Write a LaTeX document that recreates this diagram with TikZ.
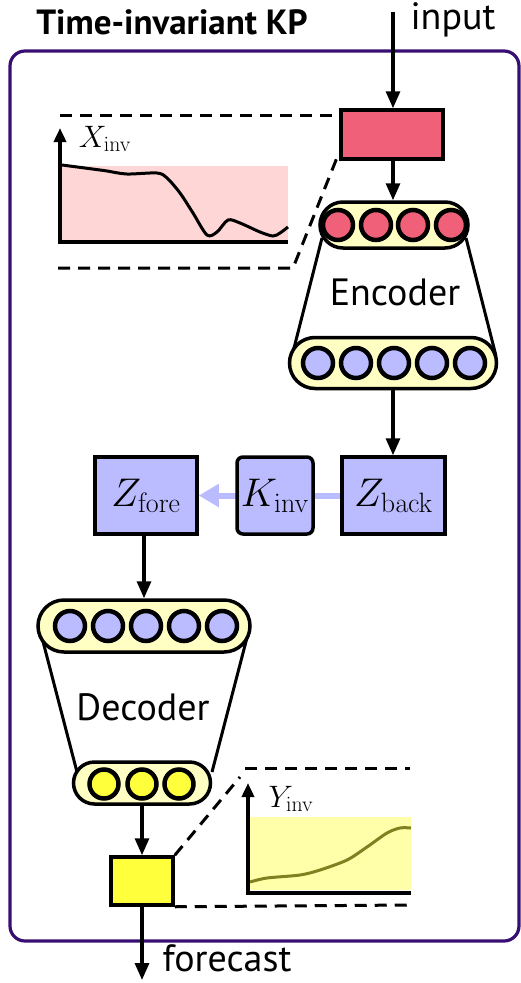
\RequirePackage{fix-cm}
\documentclass[tikz,border=0pt]{standalone}
\usepackage[no-math]{fontspec}
\setmainfont{PT Sans}
\usetikzlibrary{arrows.meta,positioning,shapes.misc}

\definecolor{netred}{RGB}{240,96,121}
\definecolor{netblue}{RGB}{187,187,255}
\definecolor{netyellow}{RGB}{255,255,60}
\definecolor{pillyellow}{RGB}{255,255,195}
\definecolor{plotred}{RGB}{255,214,214}
\definecolor{plotyellow}{RGB}{255,255,170}
\definecolor{curveolive}{RGB}{128,128,32}
\definecolor{framepurple}{RGB}{55,15,115}

\tikzset{
  flow/.style={line width=3.2pt,-{Triangle[length=17pt,width=14pt]}},
  latentflow/.style={line width=6pt,netblue,-{Triangle[length=20pt,width=22pt]}},
  pill/.style={rounded rectangle,draw,line width=3.5pt,fill=pillyellow,inner sep=0pt},
  unit/.style={circle,draw,line width=4.5pt,minimum size=30pt,inner sep=0pt},
  box/.style={draw,line width=3.5pt,inner sep=0pt},
  zoomline/.style={line width=3pt,dash pattern=on 12pt off 8pt},
  axis/.style={line width=3.5pt,-{Triangle[length=14pt,width=12pt]}},
  label/.style={font=\fontsize{38}{46}\selectfont},
  mathlabel/.style={font=\fontsize{40}{48}\selectfont},
  plotlabel/.style={font=\fontsize{31}{37}\selectfont}
}

\begin{document}
\begin{tikzpicture}[x=1pt,y=-1pt]
  \useasboundingbox (0,0) rectangle (521,983);

  % frame
  \draw[framepurple,line width=3.2pt,fill=white,rounded corners=15pt]
    (10,51) rectangle (519,941);
  \node[font=\fontsize{35}{42}\selectfont\bfseries] (title) at (172,22) {Time-invariant KP};

  % input plot
  \fill[plotred] (62,166) rectangle (288,240);
  \draw[line width=3pt] plot[smooth,tension=0.5] coordinates {
    (62,165) (100,170) (107,171) (127,174) (157,173) (167,178) (180,193)
    (193,213) (207,235) (217,232) (228,220) (240,223) (260,232) (273,236)
    (280,233) (288,227)};
  \draw[axis] (288,242) -- (60,242) -- (60,128);
  \node[plotlabel] (xinv) at (105,139) {$X_{\mathrm{inv}}$};

  % encoder
  \draw[line width=3pt] (322,238) -- (292,356);
  \draw[line width=3pt] (466,238) -- (496,356);
  \node[label] (enc) at (395,292) {Encoder};
  \node[pill,minimum width=148pt,minimum height=46pt] (enctop) at (394,225) {};
  \foreach \x in {338,376,413,451}
    \node[unit,fill=netred] (e\x) at (\x,225) {};
  \node[pill,minimum width=207pt,minimum height=51pt] (encbot) at (393,363) {};
  \foreach \x in {318,356,394,432,470}
    \node[unit,fill=netblue] (f\x) at (\x,363) {};

  \node[box,fill=netred,minimum width=102pt,minimum height=49pt] (inbox) at (392,134.5) {};
  \draw[zoomline] (60,115) -- (inbox.north west |- 0,115);
  \draw[zoomline] (58,268) -- (293,268) -- (inbox.west |- 0,152);

  % latent
  \node[box,fill=netblue,minimum width=103pt,minimum height=77pt,mathlabel] (zback) at (393.5,495.5) {$Z_{\mathrm{back}}$};
  \node[box,fill=netblue,minimum width=102pt,minimum height=77pt,mathlabel] (zfore) at (146,495.5) {$Z_{\mathrm{fore}}$};
  \draw[latentflow] (zback.west) -- (zfore.east);
  \node[box,fill=netblue,rounded corners=6pt,minimum width=76pt,minimum height=77pt,mathlabel] (kinv) at (275,495.5) {$K_{\mathrm{inv}}$};

  % decoder
  \draw[line width=3pt] (40,630) -- (77,772);
  \draw[line width=3pt] (249,630) -- (212,772);
  \node[label] (dec) at (143,707) {Decoder};
  \node[pill,minimum width=212pt,minimum height=52pt] (dectop) at (144,626) {};
  \foreach \x in {70,108,146,184,222}
    \node[unit,fill=netblue] (d\x) at (\x,626) {};
  \node[pill,minimum width=137pt,minimum height=42pt] (decbot) at (142,783) {};
  \foreach \x in {104,142,179}
    \node[unit,fill=netyellow,minimum size=29pt] (g\x) at (\x,784) {};

  \node[box,fill=netyellow,minimum width=62pt,minimum height=48pt] (outbox) at (142,881) {};

  % output plot
  \fill[plotyellow] (250,817) rectangle (411,890);
  \draw[curveolive,line width=3pt] plot[smooth,tension=0.5] coordinates {
    (250,882) (267,878) (300,875) (320,870) (347,860) (367,847) (387,833)
    (400,828) (411,828)};
  \draw[axis] (411,893) -- (248,893) -- (248,783);
  \node[plotlabel] (yinv) at (291,799) {$Y_{\mathrm{inv}}$};
  \draw[zoomline] (245,768) -- (410,768);
  \draw[zoomline] (outbox.north east) -- (240,777);
  \draw[zoomline] (outbox.south east) -- (410,905);

  % flow
  \coordinate (in) at (393,12);
  \coordinate (out) at (142,980);
  \node[label] (inlabel) at (453,20) {input};
  \node[label] (outlabel) at (227,958) {forecast};
  \draw[flow] (in) -- (inbox.north -| in);
  \draw[flow] (inbox.south -| in) -- (enctop.north -| in);
  \draw[flow] (encbot.south -| in) -- (zback.north -| in);
  \draw[flow] (zfore.south -| 144,0) -- (dectop.north -| 144,0);
  \draw[flow] (decbot.south) -- (outbox.north);
  \draw[flow] (outbox.south) -- (out);
\end{tikzpicture}
\end{document}
